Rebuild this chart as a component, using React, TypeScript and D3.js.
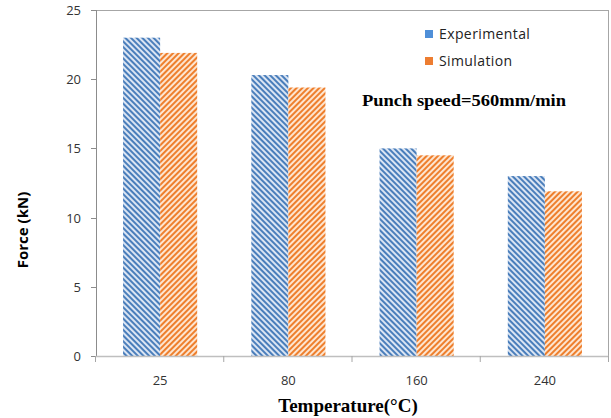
import React from 'react';
import * as d3 from 'd3';

const temperatures = ['25', '80', '160', '240'];
const experimental = [23.0, 20.3, 15.0, 13.0];
const simulation = [21.9, 19.4, 14.5, 11.9];
const seriesNames = ['Experimental', 'Simulation'];
const yTicks = [0, 5, 10, 15, 20, 25];

const W = 611;
const H = 418;
const margin = { top: 10, right: 2, bottom: 62, left: 96 };

export default function App() {
  const innerW = W - margin.left - margin.right;
  const innerH = H - margin.top - margin.bottom;

  const x = d3.scaleBand().domain(temperatures).range([0, innerW]).paddingInner(0).paddingOuter(0);
  const inner = d3.scaleBand().domain(seriesNames).range([0, x.bandwidth()]).paddingOuter(0.73).paddingInner(0);
  const y = d3.scaleLinear().domain([0, 25]).range([innerH, 0]);

  const series = [
    { name: seriesNames[0], values: experimental, pat: 'url(#hatchBlue)', color: '#4f8fd8' },
    { name: seriesNames[1], values: simulation, pat: 'url(#hatchOrange)', color: '#ed7d31' },
  ];

  const edges = temperatures.map((t) => x(t) as number).concat([innerW]);
  const tickFont = '"Open Sans", sans-serif';

  return (
    <svg width={W} height={H} style={{ position: 'absolute', left: 0, top: 0, background: '#fff' }}>
      <defs>
        <pattern id="hatchBlue" width="4" height="4" patternUnits="userSpaceOnUse" patternTransform="rotate(-45)">
          <rect width="4" height="4" fill="#dbe5f3" />
          <rect width="2" height="4" fill="#4a7ebb" />
        </pattern>
        <pattern id="hatchOrange" width="4" height="4" patternUnits="userSpaceOnUse" patternTransform="rotate(45)">
          <rect width="4" height="4" fill="#fde5d0" />
          <rect width="2" height="4" fill="#ee7f2d" />
        </pattern>
      </defs>
      <g transform={`translate(${margin.left},${margin.top})`}>
        {/* plot border */}
        <line x1={0} x2={innerW} y1={0.5} y2={0.5} stroke="#a6a6a6" />
        <line x1={innerW - 0.5} x2={innerW - 0.5} y1={0} y2={innerH} stroke="#a6a6a6" />

        {series.map((s) =>
          temperatures.map((t, i) => (
            <rect
              key={s.name + t}
              x={(x(t) as number) + (inner(s.name) as number)}
              y={y(s.values[i])}
              width={inner.bandwidth()}
              height={innerH - y(s.values[i])}
              fill={s.pat}
            />
          ))
        )}

        {/* y axis */}
        <line x1={0.5} x2={0.5} y1={0} y2={innerH} stroke="#8c8c8c" />
        {yTicks.map((v) => (
          <g key={v} transform={`translate(0,${Math.round(y(v)) + 0.5})`}>
            <line x1={-5} x2={0} stroke="#8c8c8c" />
            <text x={-15} dy="0.35em" textAnchor="end" fontFamily={tickFont} fontSize={13} fill="#333">
              {v}
            </text>
          </g>
        ))}

        {/* x axis */}
        <line x1={0} x2={innerW} y1={innerH + 0.5} y2={innerH + 0.5} stroke="#bfbfbf" strokeWidth={1.5} />
        {edges.map((e, i) => (
          <line key={i} x1={e - 0.5} x2={e - 0.5} y1={innerH} y2={innerH + 6} stroke="#a6a6a6" />
        ))}
        {temperatures.map((t) => (
          <text
            key={t}
            x={(x(t) as number) + x.bandwidth() / 2}
            y={innerH + 29}
            textAnchor="middle"
            fontFamily={tickFont}
            fontSize={13}
            fill="#333"
          >
            {t}
          </text>
        ))}

        {/* legend */}
        {series.map((s, i) => (
          <g key={s.name} transform={`translate(329,${20 + i * 27})`}>
            <rect x={0} y={0} width={8} height={8} fill={s.color} />
            <text x={14} y={8.5} fontFamily={tickFont} fontSize={14} letterSpacing={0.4} fill="#222">
              {s.name}
            </text>
          </g>
        ))}

        <text
          x={266}
          y={96}
          fontFamily='"Liberation Serif", serif'
          fontWeight="bold"
          fontSize={17}
          textLength={204}
          lengthAdjust="spacingAndGlyphs"
          fill="#000"
        >
          Punch speed=560mm/min
        </text>
      </g>

      <text
        transform={`translate(28,230) rotate(-90)`}
        textAnchor="middle"
        fontFamily={tickFont}
        fontWeight="bold"
        fontSize={15}
        fill="#000"
      >
        Force (kN)
      </text>
      <text x={348} y={412} textAnchor="middle" fontFamily='"Liberation Serif", serif' fontWeight="bold" fontSize={19} fill="#000">
        Temperature(°C)
      </text>
    </svg>
  );
}
